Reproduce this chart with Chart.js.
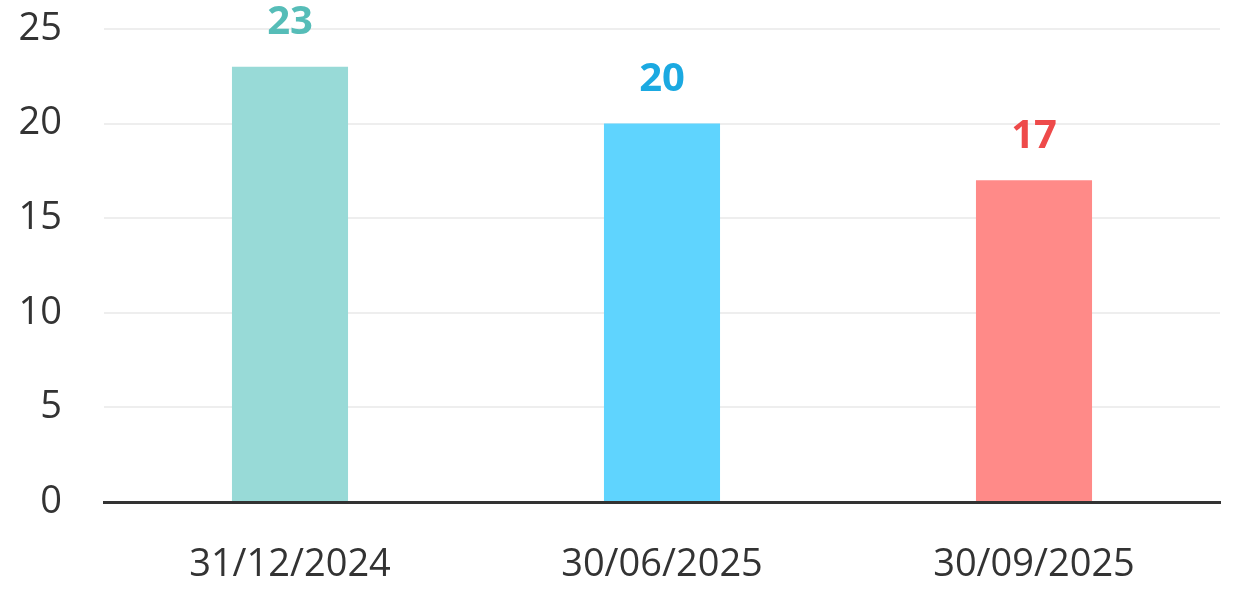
<!DOCTYPE html>
<html>
<head>
<meta charset="utf-8">
<script src="https://cdn.jsdelivr.net/npm/chart.js@4/dist/chart.umd.min.js"></script>
<style>
html,body{margin:0;padding:0;background:#fff;}
#wrap{width:1236px;height:602px;position:relative;}
</style>
</head>
<body>
<div id="wrap"><canvas id="c"></canvas></div>
<script>
const categories = ['31/12/2024', '30/06/2025', '30/09/2025'];
const values = [23, 20, 17];
const barColors = ['#98DAD7', '#5FD4FE', '#FF8A88'];
const labelColors = ['#56BDB8', '#1BA9E1', '#EE4A4A'];
const yTicks = [0, 5, 10, 15, 20, 25];

const FONT = "'Open Sans', 'Noto Sans', sans-serif";

const valueLabels = {
  id: 'valueLabels',
  afterDatasetsDraw(chart) {
    const ctx = chart.ctx;
    const meta = chart.getDatasetMeta(0);
    ctx.save();
    ctx.font = "bold 40px " + FONT;
    ctx.textAlign = 'center';
    ctx.textBaseline = 'middle';
    meta.data.forEach((bar, i) => {
      ctx.fillStyle = labelColors[i];
      ctx.fillText(String(values[i]), bar.x, bar.y - 44);
    });
    ctx.restore();
  }
};

new Chart(document.getElementById('c'), {
  type: 'bar',
  data: {
    labels: categories,
    datasets: [{
      data: values,
      backgroundColor: barColors,
      borderWidth: 0,
      barPercentage: 0.312,
      categoryPercentage: 1
    }]
  },
  options: {
    responsive: true,
    maintainAspectRatio: false,
    animation: false,
    layout: { padding: { top: 0, right: 16, left: 0, bottom: 0 } },
    plugins: { legend: { display: false }, tooltip: { enabled: false } },
    scales: {
      x: {
        grid: { display: false, drawTicks: false },
        border: { display: true, color: '#333333', width: 3 },
        ticks: { color: '#333333', font: { family: FONT, size: 38 }, padding: 40, maxRotation: 0 },
        afterFit(s) { s.height = 100; }
      },
      y: {
        min: 0, max: 25,
        afterBuildTicks(s) { s.ticks = yTicks.map(v => ({ value: v })); },
        grid: { color: '#EEEEEE', lineWidth: 2, drawTicks: false },
        border: { display: false },
        ticks: { color: '#333333', font: { family: FONT, size: 38 }, padding: 42 },
        afterFit(s) { s.width = 104; s.paddingTop = 29; s.paddingBottom = 0; }
      }
    }
  },
  plugins: [valueLabels]
});
</script>
</body>
</html>
